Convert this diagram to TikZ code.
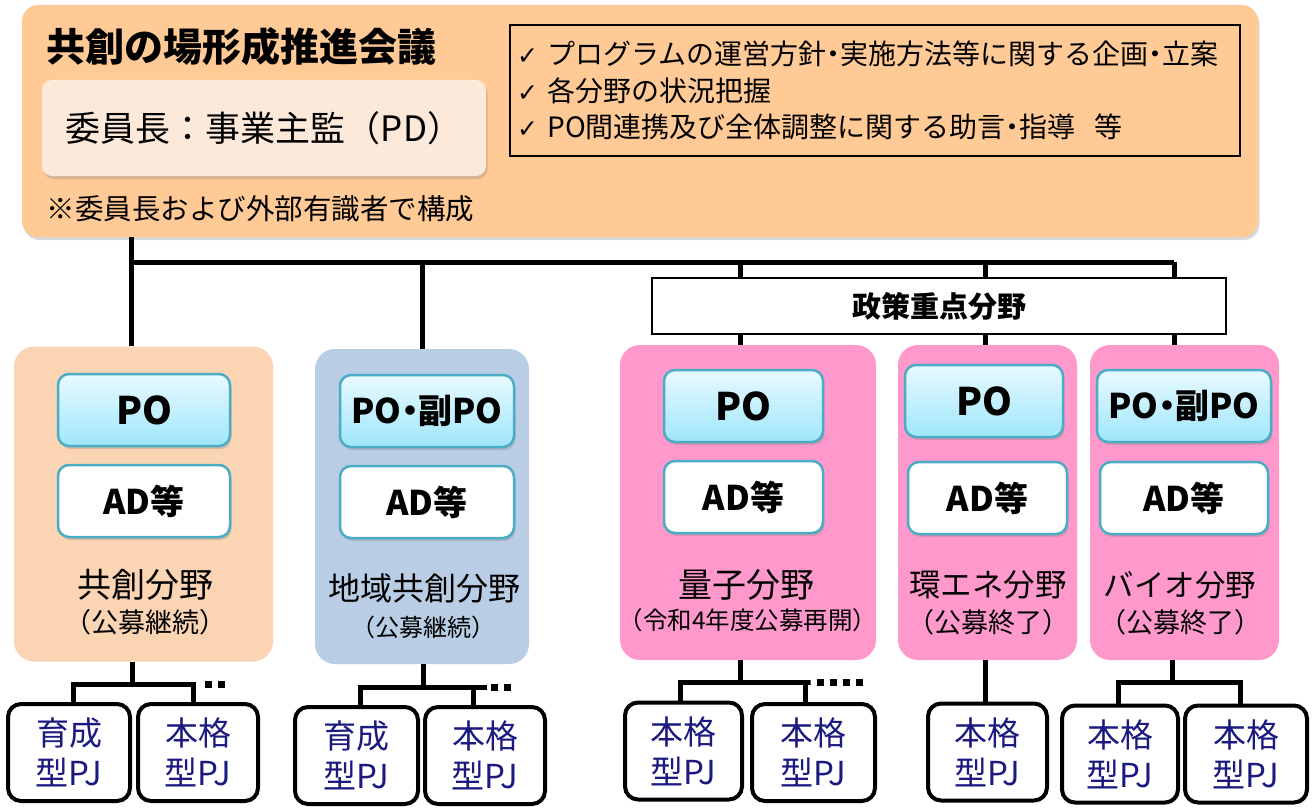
\documentclass[tikz,border=0pt]{standalone}
\usepackage{fontspec}
\setmainfont{Noto Sans CJK JP}
\newfontfamily\checkfont{DejaVu Sans}
\usepackage{tikz}
\usetikzlibrary{positioning, shadows}

\definecolor{councilfill}{HTML}{FFCA96}
\definecolor{chairfill}{HTML}{FDE9DA}
\definecolor{kyosofill}{HTML}{FBD4B4}
\definecolor{chiikifill}{HTML}{B9CDE5}
\definecolor{jutenfill}{HTML}{FF99CC}
\definecolor{potop}{HTML}{E8FAFF}
\definecolor{pobottom}{HTML}{9FE6FB}
\definecolor{edgeteal}{HTML}{4BACC6}
\definecolor{pjtext}{HTML}{1A1A80}

\newcommand{\fsize}[2]{\fontsize{#1}{#2}\selectfont}
\newcommand{\chk}{{\checkfont\bfseries\fsize{25}{36.5}✓}}
\newcommand{\ndot}{{\kern-0.25em}・{\kern-0.25em}}

\begin{document}
\begin{tikzpicture}[x=1pt, y=-1pt,
    shade/.style={drop shadow={shadow xshift=1.5pt, shadow yshift=-3pt, opacity=0.3}},
    fieldbox/.style={rounded corners=20pt, inner sep=0pt, minimum height=315pt},
    pobox/.style={draw=edgeteal, line width=2.5pt, rounded corners=11pt, top color=potop,
      bottom color=pobottom, minimum height=72pt, inner sep=0pt, shade,
      font=\fsize{38}{40}\bfseries},
    adbox/.style={pobox, top color=white, bottom color=white, font=\fsize{34}{40}\bfseries},
    pjbox/.style={draw, line width=4pt, rounded corners=13pt, fill=white, minimum width=120pt,
      minimum height=97pt, align=center, text=pjtext, font=\fsize{33}{40}},
    bus/.style={line width=5pt},
    dots/.style={line width=7pt, dash pattern=on 7pt off 6pt}]

  % Fix the page
  \useasboundingbox (0,0) rectangle (1312,808);

  % Draw the council
  \node[fill=councilfill, rounded corners=16pt, minimum width=1236pt, minimum height=232pt, shade]
    (council) at (640,121) {};
  \node[anchor=west, font=\fsize{39}{40}\bfseries] (title) at (43,47) {共創の場形成推進会議};
  \node[fill=chairfill, rounded corners=10pt, minimum width=444pt, minimum height=96pt, shade,
    font=\fsize{35}{36}] (chair) at (264,128) {委員長：事業主監（PD）};
  \node[anchor=west, font=\fsize{28.5}{30}] (note) at (43,209) {※委員長および外部有識者で構成};
  \node[draw, line width=2pt, minimum width=730pt, minimum height=131pt, text width=716pt,
    inner sep=7pt, align=left, font=\fsize{28}{36.5}] (duties) at (875,90.5)
    {\chk\ プログラムの運営方針\ndot 実施方法等に関する企画\ndot 立案\\
     \chk\ 各分野の状況把握\\
     \chk\ PO間連携及び全体調整に関する助言\ndot 指導\ \ 等};

  % Draw the policy box
  \node[draw, line width=2.5pt, fill=white, minimum width=574pt, minimum height=56pt,
    font=\fsize{29}{30}\bfseries] (policy) at (939,306) {政策重点分野};

  % Draw the fields
  \node[fieldbox, fill=kyosofill, minimum width=259pt] (colA) at (143.5,504) {};
  \node[fieldbox, fill=chiikifill, minimum width=214pt] (colB) at (422,506.5) {};
  \node[fieldbox, fill=jutenfill, minimum width=256pt] (colC) at (748,502.5) {};
  \node[fieldbox, fill=jutenfill, minimum width=179pt] (colD) at (987.5,502.5) {};
  \node[fieldbox, fill=jutenfill, minimum width=189pt] (colE) at (1184.5,502.5) {};

  \node[pobox, minimum width=172pt] (poA) at (144,410) {PO};
  \node[adbox, minimum width=172pt] (adA) at (144,501) {AD等};
  \node[pobox, minimum width=174pt, font=\fsize{34}{36}\bfseries] (poB) at (427,411)
    {PO\ndot 副PO};
  \node[adbox, minimum width=174pt] (adB) at (427,502) {AD等};
  \node[pobox, minimum width=159pt] (poC) at (743.5,406) {PO};
  \node[adbox, minimum width=159pt] (adC) at (743.5,497) {AD等};
  \node[pobox, minimum width=158pt] (poD) at (984,401) {PO};
  \node[adbox, minimum width=159pt] (adD) at (987.5,498) {AD等};
  \node[pobox, minimum width=174pt, font=\fsize{34}{36}\bfseries] (poE) at (1184,406)
    {PO\ndot 副PO};
  \node[adbox, minimum width=168pt] (adE) at (1184,498) {AD等};

  % Draw the field names
  \node[font=\fsize{34}{36}] (nameA) at (145,585) {共創分野};
  \node[font=\fsize{27}{28}] (subA) at (145,622) {（公募継続）};
  \node[font=\fsize{32}{34}] (nameB) at (424,588) {地域共創分野};
  \node[font=\fsize{24}{26}] (subB) at (423,627) {（公募継続）};
  \node[font=\fsize{34}{36}] (nameC) at (746,585) {量子分野};
  \node[font=\fsize{24.5}{26}] (subC) at (748,620) {（令和4年度公募再開）};
  \node[font=\fsize{31.5}{34}] (nameD) at (988,585) {環エネ分野};
  \node[font=\fsize{27}{28}] (subD) at (988,622) {（公募終了）};
  \node[font=\fsize{30.5}{34}] (nameE) at (1180,585) {バイオ分野};
  \node[font=\fsize{27}{28}] (subE) at (1180,622) {（公募終了）};

  % Draw the projects
  \node[pjbox, minimum width=122pt] (pjA1) at (69,752.5) {育成\\型PJ};
  \node[pjbox] (pjA2) at (198,752.5) {本格\\型PJ};
  \node[pjbox, minimum width=123pt] (pjB1) at (356.5,755.5) {育成\\型PJ};
  \node[pjbox] (pjB2) at (485,755.5) {本格\\型PJ};
  \node[pjbox, minimum width=117pt] (pjC1) at (683.5,751) {本格\\型PJ};
  \node[pjbox, minimum width=123pt] (pjC2) at (813.5,752.5) {本格\\型PJ};
  \node[pjbox, minimum width=119pt] (pjD1) at (987.5,752) {本格\\型PJ};
  \node[pjbox, minimum width=116pt] (pjE1) at (1120,754) {本格\\型PJ};
  \node[pjbox, minimum width=122pt] (pjE2) at (1246,754) {本格\\型PJ};

  % Define the bus points
  \coordinate (b1) at (131,262);
  \coordinate (b2) at (422,262);
  \coordinate (b3) at (740,262);
  \coordinate (b4) at (985,262);
  \coordinate (b5) at (1174,262);
  \coordinate (tA) at (132,684);
  \coordinate (tB) at (423,687);
  \coordinate (tC) at (740,682);
  \coordinate (tE) at (1172,682);

  % Draw the upper tree
  \draw[bus] (b1) -- (b5);
  \draw[bus] (b1 |- council.south) -- (b1 |- colA.north);
  \draw[bus] (b2) -- (b2 |- colB.north);
  \foreach \b/\col in {b3/colC, b4/colD, b5/colE} {
    \draw[bus] (\b) -- (\b |- policy.north);
    \draw[bus] (\b |- policy.south) -- (\b |- \col.north);
  }

  % Draw the lower trees
  \draw[bus] (tA |- colA.south) -- (tA);
  \draw[bus] ([xshift=4pt]pjA1.north) |- ([xshift=-5pt]pjA2.north |- tA) -- ([xshift=-5pt]pjA2.north);
  \draw[dots] ([xshift=7pt]pjA2.north |- tA) -- ++(24,0);
  \draw[bus] (tB |- colB.south) -- (tB);
  \draw[bus] ([xshift=4pt]pjB1.north) |- ([xshift=2pt]pjB2.north |- tB);
  \draw[bus] ([xshift=-12pt]pjB2.north |- tB) -- ([xshift=-12pt]pjB2.north);
  \draw[dots] ([xshift=6pt]pjB2.north |- tB) -- ++(24,0);
  \draw[bus] (tC |- colC.south) -- (tC);
  \draw[bus] ([xshift=-3pt]pjC1.north) |- ([xshift=-3pt]pjC2.north |- tC) -- ([xshift=-8pt]pjC2.north |- tC)
    -- ([xshift=-8pt]pjC2.north);
  \draw[dots] ([xshift=3pt]pjC2.north |- tC) -- ++(50,0);
  \draw[bus] (pjD1.north -| b4) -- (b4 |- colD.south);
  \draw[bus] (tE |- colE.south) -- (tE);
  \draw[bus] ([xshift=-2pt]pjE1.north) |- (tE) -| ([xshift=-6pt]pjE2.north);
\end{tikzpicture}
\end{document}
